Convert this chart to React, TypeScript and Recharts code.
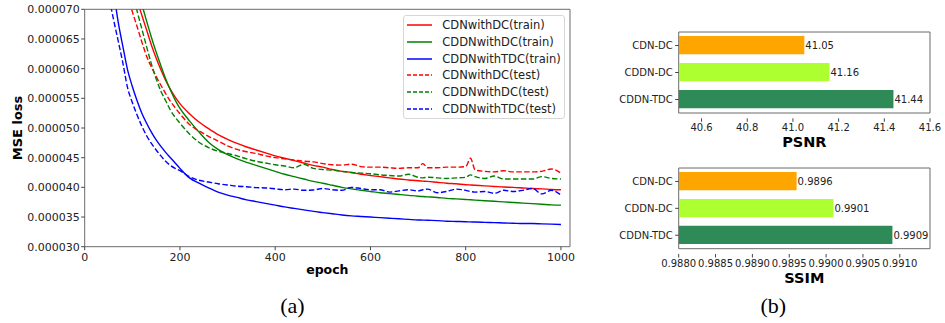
import {
  Bar,
  BarChart,
  Cell,
  LabelList,
  Legend,
  Line,
  LineChart,
  ReferenceArea,
  XAxis,
  YAxis,
} from "recharts";

// loss values are in units of 1e-6
const epochs = [
  30, 40, 50, 60, 70, 80, 90, 100, 110, 120, 130, 140, 150, 160, 170, 180, 190, 200,
  220, 240, 260, 280, 300, 320, 340, 360, 380, 400, 420, 440, 460, 480, 500, 520, 540,
  560, 580, 600, 620, 640, 660, 680, 700, 710, 720, 740, 760, 780, 800, 810, 820, 840,
  860, 880, 900, 920, 940, 960, 980, 1000,
];

const cdnTrain = [
  115, 105, 97, 91, 86, 82, 78.5, 75.2, 71.6, 69, 66.5, 64, 61.8, 59.8, 58, 56.5, 55.2, 54.1,
  52.4, 51, 49.9, 48.9, 48.1, 47.4, 46.8, 46.3, 45.8, 45.3, 44.9, 44.5, 44.1, 43.7, 43.4, 43.0, 42.7,
  42.5, 42.2, 42.0, 41.8, 41.6, 41.4, 41.25, 41.1, 41.05, 41.0, 40.85, 40.7, 40.6, 40.45, 40.4, 40.35, 40.25,
  40.15, 40.05, 40.0, 39.9, 39.8, 39.75, 39.65, 39.6,
];

const cddnTrain = [
  120, 110, 102, 95, 89, 84, 80, 76.5, 73.3, 70.8, 68, 65.3, 62.8, 60.5, 58.3, 56.4, 54.7, 53.3,
  51.2, 49.3, 47.6, 46.4, 45.5, 44.8, 44.2, 43.7, 43.2, 42.7, 42.2, 41.8, 41.4, 41.0, 40.7, 40.35, 40.0,
  39.75, 39.5, 39.3, 39.1, 38.95, 38.8, 38.65, 38.5, 38.45, 38.4, 38.3, 38.15, 38.05, 37.95, 37.9, 37.85, 37.75,
  37.65, 37.55, 37.45, 37.35, 37.25, 37.15, 37.05, 37.0,
];

const tdcTrain = [
  95, 86, 79.5, 73.5, 68, 63.8, 59.8, 57, 54.6, 52.5, 50.8, 49.3, 48, 46.9, 45.9, 45, 44.1, 43.2,
  41.6, 40.7, 39.9, 39.2, 38.7, 38.3, 37.9, 37.6, 37.3, 37.0, 36.7, 36.45, 36.2, 35.95, 35.75, 35.55, 35.35,
  35.2, 35.1, 35.0, 34.9, 34.8, 34.7, 34.6, 34.5, 34.48, 34.45, 34.4, 34.3, 34.25, 34.2, 34.18, 34.15, 34.1,
  34.05, 34.0, 33.95, 33.9, 33.9, 33.85, 33.8, 33.75,
];

const cdnTest = [
  100, 92, 86, 81, 77.5, 74.5, 72.5, 69.6, 67.1, 64.5, 62.1, 60.3, 58.7, 57.2, 55.8, 54.5, 53.4, 52.4,
  50.6, 49.5, 48.6, 47.8, 47.0, 46.4, 46.0, 45.7, 45.3, 45.0, 44.8, 44.6, 44.4, 44.3, 44.0, 43.8, 43.75,
  43.9, 43.5, 43.4, 43.4, 43.3, 43.2, 43.3, 43.3, 44.0, 43.3, 43.3, 43.4, 43.4, 43.5, 44.9, 42.9, 42.7,
  42.6, 42.8, 42.6, 42.6, 42.6, 42.7, 43.1, 42.4,
];

const cddnTest = [
  111, 103, 96, 90, 85, 80.5, 76.5, 73, 69.7, 66.7, 63.7, 60.8, 58.3, 56.2, 54.6, 53.0, 51.8, 50.8,
  49.0, 47.6, 46.7, 46.1, 45.7, 45.3, 44.8, 44.4, 44.1, 43.8, 43.6, 43.3, 43.9, 43.2, 43.0, 42.9, 42.7,
  42.5, 42.4, 42.3, 42.1, 42.0, 41.9, 42.2, 41.7, 41.6, 41.7, 41.6, 41.5, 41.6, 41.7, 42.1, 41.8, 41.5,
  41.9, 41.4, 41.4, 41.4, 41.4, 41.8, 41.5, 41.4,
];

const tdcTest = [
  85, 77.5, 72.5, 68.5, 64.8, 61, 56.8, 54.3, 52.2, 50.3, 48.7, 47.4, 46.3, 45.3, 44.4, 43.7, 43.2, 42.8,
  41.8, 41.2, 40.9, 40.6, 40.4, 40.2, 40.1, 39.95, 39.9, 39.75, 39.6, 39.7, 39.5, 39.55, 39.8, 39.6, 39.5,
  40.0, 39.8, 39.6, 39.6, 39.2, 39.4, 39.6, 39.4, 39.6, 39.7, 39.1, 39.3, 39.7, 39.5, 39.3, 39.2, 39.3,
  39.0, 39.5, 39.3, 39.5, 39.8, 38.9, 39.5, 38.7,
];

const lossTicks = [30, 35, 40, 45, 50, 55, 60, 65, 70];
const epochTicks = [0, 200, 400, 600, 800, 1000];

const methods = ["CDN-DC", "CDDN-DC", "CDDN-TDC"];
const psnrValues = [41.05, 41.16, 41.44];
const ssimValues = [0.9896, 0.9901, 0.9909];
const psnrTicks = [40.6, 40.8, 41.0, 41.2, 41.4, 41.6];
const ssimTicks = [0.988, 0.9885, 0.989, 0.9895, 0.99, 0.9905, 0.991];

const BAR_COLORS = ["#ffa500", "#adff2f", "#2e8b57"];

const seriesList = [
  { key: "cdnTrain", name: "CDNwithDC(train)", color: "#ff0000", dashed: false },
  { key: "cddnTrain", name: "CDDNwithDC(train)", color: "#008000", dashed: false },
  { key: "tdcTrain", name: "CDDNwithTDC(train)", color: "#0000ff", dashed: false },
  { key: "cdnTest", name: "CDNwithDC(test)", color: "#ff0000", dashed: true },
  { key: "cddnTest", name: "CDDNwithDC(test)", color: "#008000", dashed: true },
  { key: "tdcTest", name: "CDDNwithTDC(test)", color: "#0000ff", dashed: true },
];

const lossData = epochs.map((epoch, i) => ({
  epoch,
  cdnTrain: cdnTrain[i],
  cddnTrain: cddnTrain[i],
  tdcTrain: tdcTrain[i],
  cdnTest: cdnTest[i],
  cddnTest: cddnTest[i],
  tdcTest: tdcTest[i],
}));

const psnrData = methods.map((name, i) => ({ name, value: psnrValues[i] }));
const ssimData = methods.map((name, i) => ({ name, value: ssimValues[i] }));

const FONT = "DejaVu Sans";
const INK = "#222";
const FRAME = "#6b6b6b";
const DASH = "5.5 2.4";

const tickStyle = { fontFamily: FONT, fontSize: 11, fill: INK };
const smallTick = { fontFamily: FONT, fontSize: 10, fill: INK };

function LossLegend() {
  return (
    <div
      style={{
        boxSizing: "border-box",
        width: 162,
        height: 104,
        border: "1px solid #d6d6d6",
        borderRadius: 3,
        background: "rgba(255,255,255,0.8)",
        padding: "1px 0 0 3px",
        fontFamily: FONT,
        fontSize: 11.5,
        color: INK,
      }}
    >
      {seriesList.map((s) => (
        <div key={s.key} style={{ display: "flex", alignItems: "center", height: 16.7 }}>
          <svg width={25} height={4} style={{ flex: "none" }}>
            <line
              x1={0}
              y1={2}
              x2={25}
              y2={2}
              stroke={s.color}
              strokeWidth={1.5}
              strokeDasharray={s.dashed ? "4 2" : undefined}
            />
          </svg>
          <span style={{ marginLeft: 10, whiteSpace: "nowrap" }}>{s.name}</span>
        </div>
      ))}
    </div>
  );
}

function LossChart() {
  return (
    <LineChart
      width={590}
      height={290}
      data={lossData}
      margin={{ top: 9.3, right: 20, left: 0, bottom: 13.3 }}
    >
      <XAxis
        dataKey="epoch"
        type="number"
        domain={[0, 1019]}
        ticks={epochTicks}
        interval={0}
        allowDataOverflow
        axisLine={false}
        tickSize={3.5}
        tickMargin={2.7}
        tickLine={{ stroke: "#444" }}
        tick={tickStyle}
        height={30}
        label={{
          value: "epoch",
          position: "center",
          dy: 7.5,
          style: { fontFamily: FONT, fontSize: 12.5, fontWeight: "bold", fill: "#000" },
        }}
      />
      <YAxis
        type="number"
        domain={[30, 70]}
        ticks={lossTicks}
        interval={0}
        allowDataOverflow
        axisLine={false}
        width={84.7}
        tickSize={3.5}
        tickMargin={1.5}
        tickLine={{ stroke: "#444" }}
        tick={tickStyle}
        tickFormatter={(v: number) => (v / 1e6).toFixed(6)}
        label={{
          value: "MSE loss",
          angle: -90,
          position: "center",
          dx: -25.2,
          style: { fontFamily: FONT, fontSize: 13, fontWeight: "bold", fill: "#000" },
        }}
      />
      <ReferenceArea x1={0} x2={1019} y1={30} y2={70} fill="none" stroke={FRAME} strokeWidth={1} />
      {seriesList.map((s) => (
        <Line
          key={s.key}
          dataKey={s.key}
          name={s.name}
          type="monotone"
          stroke={s.color}
          strokeWidth={1.4}
          strokeDasharray={s.dashed ? DASH : undefined}
          dot={false}
          isAnimationActive={false}
        />
      ))}
      <Legend
        layout="vertical"
        align="center"
        verticalAlign="middle"
        content={() => <LossLegend />}
        wrapperStyle={{ left: 403.3, top: 15, width: 162, height: 104 }}
      />
    </LineChart>
  );
}

type ScoreChartProps = {
  data: { name: string; value: number }[];
  domain: [number, number];
  ticks: number[];
  digits: number;
  title: string;
  height: number;
  top: number;
  axisHeight: number;
  titleDy: number;
};

function ScoreChart({ data, domain, ticks, digits, title, height, top, axisHeight, titleDy }: ScoreChartProps) {
  return (
    <BarChart
      width={355}
      height={height}
      data={data}
      layout="vertical"
      margin={{ top, right: 15, left: 0, bottom: 0 }}
    >
      <XAxis
        type="number"
        domain={domain}
        ticks={ticks}
        interval={0}
        allowDataOverflow
        axisLine={false}
        tickSize={3.5}
        tickMargin={2.4}
        tickLine={{ stroke: "#444" }}
        tick={smallTick}
        tickFormatter={(v: number) => v.toFixed(digits === 2 ? 1 : 4)}
        height={axisHeight}
        label={{
          value: title,
          position: "center",
          dy: titleDy,
          style: { fontFamily: FONT, fontSize: 14.5, fontWeight: "bold", fill: "#000" },
        }}
      />
      <YAxis
        type="category"
        dataKey="name"
        width={88.7}
        interval={0}
        axisLine={false}
        tickSize={3.5}
        tickMargin={2.5}
        tickLine={{ stroke: "#444" }}
        tick={smallTick}
        padding={{ top: 5.3, bottom: 5.3 }}
      />
      <ReferenceArea x1={domain[0]} x2={domain[1]} fill="none" stroke={FRAME} strokeWidth={1} />
      <Bar dataKey="value" barSize={18.3} isAnimationActive={false}>
        {data.map((d, i) => (
          <Cell key={d.name} fill={BAR_COLORS[i]} />
        ))}
        <LabelList
          dataKey="value"
          position="right"
          offset={1}
          formatter={(v: number) => v.toFixed(digits)}
          style={{ fontFamily: FONT, fontSize: 10, fill: INK }}
        />
      </Bar>
    </BarChart>
  );
}

const captionStyle = {
  position: "absolute" as const,
  top: 295,
  width: 60,
  textAlign: "center" as const,
  fontFamily: "Liberation Serif",
  fontSize: 22,
  lineHeight: "22px",
  color: "#000",
};

export default function App() {
  return (
    <div
      style={{
        position: "absolute",
        left: 0,
        top: 0,
        width: 945,
        height: 323,
        background: "#fff",
        overflow: "hidden",
      }}
    >
      <div style={{ position: "absolute", left: 0, top: 0 }}>
        <LossChart />
      </div>
      <div style={{ position: "absolute", left: 590, top: 0 }}>
        <ScoreChart
          data={psnrData}
          domain={[40.5, 41.6]}
          ticks={psnrTicks}
          digits={2}
          title="PSNR"
          height={160}
          top={26.7}
          axisHeight={41.7}
          titleDy={2.5}
        />
      </div>
      <div style={{ position: "absolute", left: 590, top: 160 }}>
        <ScoreChart
          data={ssimData}
          domain={[0.988, 0.99141]}
          ticks={ssimTicks}
          digits={4}
          title="SSIM"
          height={130}
          top={2.7}
          axisHeight={36}
          titleDy={5.4}
        />
      </div>
      <div style={{ ...captionStyle, left: 262.5 }}>(a)</div>
      <div style={{ ...captionStyle, left: 743.3 }}>(b)</div>
    </div>
  );
}
